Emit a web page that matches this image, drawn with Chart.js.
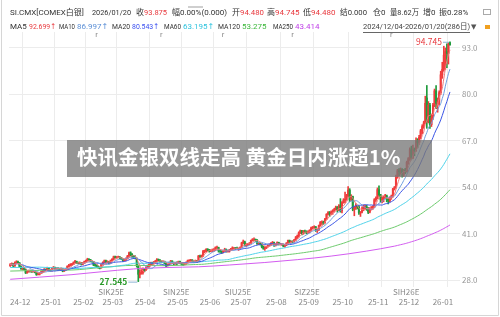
<!DOCTYPE html>
<html>
<head>
<meta charset="utf-8">
<script src="https://cdn.jsdelivr.net/npm/chart.js@4.4.1/dist/chart.umd.min.js"></script>
<style>
  html, body { margin: 0; padding: 0; background: #fff; }
  canvas { display: block; }
</style>
</head>
<body>
<canvas id="kline" width="500" height="317"></canvas>
<script>
// daily bars, [open, high, low, close]
const dec24 = [
  [32.0,32.6,31.8,32.3],[32.3,32.8,32.1,32.5],[32.5,32.6,31.7,31.9],[31.9,33.1,31.9,32.9],[32.9,33.4,32.6,33.1],
  [33.1,33.3,32.6,32.8],[32.8,32.9,31.6,31.8],[31.8,31.9,31.0,31.2],[31.2,31.6,30.9,31.3],[31.3,31.5,30.8,31.0],
  [31.0,31.1,29.8,30.0],[30.0,30.6,29.9,30.3],[30.3,30.8,30.2,30.5],[30.5,30.8,30.2,30.4],[30.4,30.6,30.1,30.3],
  [30.3,30.8,30.2,30.6],[30.6,30.7,30.0,30.1],[30.1,30.2,29.3,29.5],[29.5,29.9,29.4,29.6]
];
const jan25 = [
  [29.6,30.1,29.4,29.9],[29.9,30.4,29.8,30.2],[30.2,30.8,30.1,30.5],[30.5,31.2,30.4,31.0],[31.0,31.1,30.6,30.8],
  [30.8,31.6,30.7,31.4],[31.4,31.5,30.6,30.7],[30.7,30.9,30.4,30.6],[30.6,31.5,30.5,31.3],[31.3,31.8,31.1,31.5],
  [31.5,31.6,31.0,31.1],[31.1,31.5,31.0,31.3],[31.3,31.5,31.0,31.2],[31.2,31.3,30.8,31.0],[31.0,31.4,30.9,31.2],
  [31.2,31.3,30.3,30.5],[30.5,31.0,30.4,30.8],[30.8,31.3,30.7,31.1],[31.1,32.0,31.0,31.8],[31.8,32.4,31.7,32.1],
  [32.1,32.6,31.9,32.3]
];
const feb25 = [
  [32.3,32.7,32.0,32.4],[32.4,33.1,32.3,32.9],[32.9,33.5,32.8,33.2],[33.2,33.3,32.6,32.8],[32.8,33.0,32.5,32.7],
  [32.7,33.1,32.5,32.8],[32.8,32.9,32.2,32.4],[32.4,32.9,32.3,32.7],[32.7,33.3,32.6,33.1],[33.1,33.6,32.9,33.4],
  [33.4,34.1,33.3,33.8],[33.8,34.0,33.5,33.7],[33.7,33.8,33.1,33.2],[33.2,33.4,33.0,33.1],[33.1,33.2,32.0,32.2],
  [32.2,32.5,31.9,32.1],[32.1,32.3,31.5,31.7],[31.7,31.9,31.3,31.5],[31.5,31.7,31.1,31.3]
];
const mar25 = [
  [31.4,32.6,31.3,32.4],[32.4,33.1,32.2,32.9],[32.9,33.6,32.8,33.4],[33.4,33.6,32.9,33.1],[33.1,33.4,32.8,33.1],
  [33.1,33.2,32.5,32.7],[32.7,33.6,32.6,33.4],[33.4,34.0,33.3,33.8],[33.8,34.7,33.7,34.5],[34.5,34.7,34.1,34.3],
  [34.3,34.6,34.1,34.4],[34.4,34.7,34.2,34.4],[34.4,34.6,34.0,34.2],[34.2,34.3,33.7,33.8],[33.8,33.9,33.2,33.4],
  [33.4,33.8,33.3,33.6],[33.6,34.2,33.5,34.0],[34.0,34.9,33.9,34.7],[34.7,35.8,34.6,35.6],[35.6,35.9,34.8,35.1],
  [35.1,35.4,34.2,34.6]
];
const apr25 = [
  [34.6,34.9,34.0,34.3],[34.3,34.8,33.9,34.1],[34.1,34.2,31.6,32.0],[32.0,32.2,27.545,29.6],[29.6,30.8,28.6,30.0],
  [30.0,31.0,29.6,30.1],[30.1,31.4,29.6,30.9],[30.9,31.2,30.3,30.8],[30.8,31.7,30.6,31.4],[31.4,32.2,31.3,31.9],
  [31.9,32.6,31.7,32.4],[32.4,33.0,32.3,32.8],[32.8,33.0,32.3,32.6],[32.6,33.2,32.4,32.9],[32.9,33.5,32.7,33.2],
  [33.2,34.0,33.0,33.7],[33.7,33.9,33.3,33.6],[33.6,33.7,32.9,33.2],[33.2,33.4,32.8,33.1],[33.1,33.4,32.9,33.2],
  [33.2,33.3,32.5,32.7]
];
const may25 = [
  [32.7,32.8,31.7,32.0],[32.0,32.5,31.9,32.3],[32.3,33.0,32.1,32.7],[32.7,33.5,32.6,33.3],[33.3,33.4,32.6,32.8],
  [32.8,33.0,32.3,32.5],[32.5,33.0,32.4,32.8],[32.8,33.1,32.2,32.7],[32.7,33.3,32.6,33.2],[33.2,33.3,32.6,32.8],
  [32.8,32.9,32.2,32.5],[32.5,32.7,32.1,32.4],[32.4,32.8,32.2,32.6],[32.6,33.1,32.4,32.9],[32.9,33.6,32.8,33.4],
  [33.4,33.7,33.2,33.5],[33.5,33.8,33.1,33.6],[33.6,33.7,33.0,33.2],[33.2,33.4,32.9,33.1],[33.1,33.6,33.0,33.3],
  [33.3,33.5,32.9,33.1]
];
const jun25 = [
  [33.2,34.9,33.1,34.7],[34.7,35.0,34.3,34.6],[34.6,35.0,34.4,34.7],[34.7,36.3,34.6,36.0],[36.0,36.4,35.6,36.1],
  [36.1,36.8,35.9,36.6],[36.6,36.8,36.1,36.4],[36.4,36.6,35.8,36.3],[36.3,36.5,35.9,36.3],[36.3,36.7,35.9,36.3],
  [36.3,36.8,36.0,36.4],[36.4,37.3,36.2,37.1],[37.1,37.5,36.8,37.1],[37.1,37.2,35.8,36.2],[36.2,36.4,35.7,36.1],
  [36.1,36.2,35.4,35.8],[35.8,36.3,35.6,36.1],[36.1,36.9,36.0,36.6],[36.6,36.7,35.8,36.0],[36.0,36.3,35.8,36.1]
];
const jul25 = [
  [36.0,36.6,35.8,36.4],[36.4,36.9,36.2,36.7],[36.7,37.3,36.5,37.0],[37.0,37.1,36.8,37.0],[37.0,37.1,36.5,36.9],
  [36.9,37.2,36.6,36.8],[36.8,37.0,36.3,36.8],[36.8,37.3,36.6,37.1],[37.1,38.6,37.0,38.4],[38.4,39.2,38.2,38.7],
  [38.7,38.9,37.5,37.8],[37.8,38.2,37.3,38.0],[38.0,38.3,37.6,38.0],[38.0,38.5,37.9,38.3],[38.3,39.2,38.2,39.1],
  [39.1,39.6,38.9,39.4],[39.4,39.8,39.0,39.4],[39.4,39.5,38.8,39.2],[39.2,39.3,38.0,38.2],[38.2,38.5,37.9,38.2],
  [38.2,38.4,37.8,38.1],[38.1,38.2,37.0,37.4],[37.4,37.5,36.6,36.9]
];
const aug25 = [
  [36.9,37.3,36.3,37.0],[37.0,37.5,36.8,37.4],[37.4,38.0,37.2,37.8],[37.8,38.1,37.5,37.9],[37.9,38.5,37.7,38.3],
  [38.3,38.8,38.0,38.5],[38.5,38.6,37.4,37.7],[37.7,38.1,37.5,37.9],[37.9,38.7,37.8,38.5],[38.5,38.6,37.8,38.0],
  [38.0,38.3,37.8,38.0],[38.0,38.2,37.7,38.0],[38.0,38.1,37.3,37.5],[37.5,38.0,37.2,37.8],[37.8,38.5,37.6,38.3],
  [38.3,39.2,38.0,39.1],[39.1,39.2,38.5,38.7],[38.7,39.0,38.5,38.8],[38.8,39.0,38.4,38.7],[38.7,39.4,38.6,39.2],
  [39.2,40.2,39.1,39.8]
];
const sep25 = [
  [39.8,40.6,39.6,40.3],[40.3,41.5,40.0,41.2],[41.2,42.0,41.0,41.8],[41.8,41.9,40.6,41.0],[41.0,41.9,40.8,41.6],
  [41.6,42.0,41.2,41.4],[41.4,41.8,40.9,41.3],[41.3,41.8,41.0,41.5],[41.5,42.1,41.2,41.9],[41.9,42.8,41.7,42.6],
  [42.6,43.0,42.3,42.8],[42.8,43.2,42.5,42.9],[42.9,43.0,41.6,42.0],[42.0,42.3,41.3,42.0],[42.0,43.4,41.9,43.3],
  [43.3,44.4,43.1,44.2],[44.2,44.6,43.6,44.2],[44.2,44.5,43.5,44.0],[44.0,45.3,43.9,45.1],[45.1,46.6,45.0,46.4],
  [46.4,47.2,46.2,46.9],[46.9,47.2,45.8,46.6]
];
const oct25 = [
  [46.6,47.4,46.2,47.0],[47.0,47.7,46.4,47.2],[47.2,48.1,47.0,47.8],[47.8,48.7,47.6,48.4],[48.4,48.6,47.0,47.6],
  [47.6,49.1,47.4,48.8],[48.8,50.8,47.0,47.4],[47.4,50.0,46.8,49.7],[49.7,50.8,49.5,50.4],[50.4,52.6,49.6,50.6],
  [50.6,52.0,50.3,51.6],[51.6,54.2,51.4,53.2],[53.2,53.6,50.0,50.5],[50.5,51.9,50.2,51.4],[51.4,51.5,47.4,47.8],
  [47.8,48.6,46.0,48.3],[48.3,49.4,47.8,48.8],[48.8,49.0,47.9,48.5],[48.5,48.7,46.4,46.8],[46.8,47.2,45.8,47.0],
  [47.0,48.5,46.8,47.9],[47.9,49.0,47.4,48.4],[48.4,49.0,47.8,48.5]
];
const nov25 = [
  [48.5,49.0,47.5,48.1],[48.1,48.3,46.6,47.0],[47.0,48.3,46.8,48.0],[48.0,48.6,47.6,48.1],[48.1,48.8,47.8,48.5],
  [48.5,50.8,48.3,50.5],[50.5,51.3,50.0,51.0],[51.0,53.8,50.8,53.3],[53.3,54.4,51.5,51.9],[51.9,52.0,49.8,50.6],
  [50.6,51.3,49.6,50.9],[50.9,51.5,49.9,51.2],[51.2,52.0,50.8,51.6],[51.6,51.8,49.9,50.5],[50.5,50.9,49.3,50.1],
  [50.1,51.3,49.9,51.1],[51.1,51.8,50.6,51.5],[51.5,53.7,51.2,53.5],[53.5,54.2,53.2,53.9],[53.9,57.4,53.7,56.8]
];
const dec25 = [
  [56.8,59.0,56.5,58.6],[58.6,59.2,57.2,58.4],[58.4,59.4,57.6,58.9],[58.9,59.2,56.8,57.4],[57.4,59.0,57.0,58.7],
  [58.7,59.3,57.8,58.4],[58.4,61.3,58.2,61.0],[61.0,62.3,60.4,62.0],[62.0,65.0,61.5,64.5],[64.5,65.5,61.8,62.3],
  [62.3,65.8,62.0,64.5],[64.5,65.0,62.8,64.2],[64.2,67.8,64.0,67.0],[67.0,67.6,65.0,66.5],[66.5,68.5,66.0,68.0],
  [68.0,70.2,67.6,69.8],[69.8,71.5,69.0,71.0],[71.0,72.5,70.5,72.0],[72.0,79.5,71.8,77.5],[79.0,82.5,70.5,72.5],
  [72.5,78.0,72.0,77.0],[77.0,77.5,70.5,71.5]
];
const jan26 = [
  [71.5,74.5,71.0,73.5],[73.5,77.5,73.0,77.0],[77.0,81.5,76.5,81.0],[81.0,82.5,76.0,77.5],[77.5,79.0,75.0,78.0],
  [78.0,81.0,77.0,80.5],[80.5,86.5,80.0,85.5],[85.5,89.0,84.5,87.0],[87.0,93.5,86.5,91.0],[91.0,93.0,87.0,92.0],
  [92.0,94.2,87.5,91.5],[91.5,94.5,88.5,94.0],[94.48,94.745,93.8,93.875]
];

// long averages before enough days are in the window: [day index, value]
const ma60Early = [[0,31.5],[19,31.6],[40,31.2]];
const ma120Early = [[0,30.5],[19,30.7],[40,30.8],[59,31.5],[80,32.1],[101,32.0]];
const ma250Early = [[0,28.2],[19,28.8],[40,29.5],[59,30.3],[80,31.1],[101,31.5],[122,31.7],
  [142,32.2],[165,32.9],[186,33.7],[208,34.7],[231,36.1]];

const monthLabels = ['24-12','25-01','25-02','25-03','25-04','25-05','25-06','25-07','25-08','25-09','25-10','25-11','25-12','26-01'];
const monthStart = [0,19,40,59,80,101,122,142,165,186,208,231,251,273];
const rollNames = ['SIK25E','SIN25E','SIU25E','SIZ25E','SIH26E'];
const rollIdx = [57,99,139,184,248];
const yTicks = [28,41,54,67,80,93];

const maNames = ['MA5','MA10','MA20','MA60','MA120','MA250'];
const maLabels = ['92.699↑','86.997↑','80.543↑','63.195↑','53.275','43.414'];
const maColors = ['#f07a7a','#6f9fe0','#3b55e6','#4fd3ea','#6ccb6c','#d35cf0'];
const maTextColors = ['#e8383d','#5b8fd6','#3a4ff0','#2fc3de','#3cb83c','#c040e8'];

// header quote: [label, value, value is red]
const quoteItems = [
  ['SI.CMX[COMEX白银]', '', false], ['2026/01/20', '', false], ['收', '93.875', true],
  ['幅0.00%(0.000)', '', false], ['开', '94.480', true], ['高', '94.745', true], ['低', '94.480', true],
  ['结0.000', '', false], ['仓0', '', false], ['量8.62万', '', false], ['增0', '', false], ['振0.28%', '', false]
];
const quoteSpans = [[10,88],[92,131],[136,167],[172,229],[232,264],[267,300],[303,336],[340,367],[373,386],[390,419],[423,436],[439,476]];
const maSpans = [[10,27,29,56],[59,75,77,110],[112,130,132,159],[164,181,183,215],[218,240,242,271],[273,293,295,322]];

const UP = '#f03c3c', DOWN = '#1f9b3c';
const FONT = '"Noto Sans CJK SC","Noto Sans",sans-serif';
const HEAD_FONT = 'Roboto,"DejaVu Sans","Noto Sans CJK SC",sans-serif';
const HEAD_SIZE = 8;

const bars = [].concat(dec24, jan25, feb25, mar25, apr25, may25, jun25, jul25, aug25, sep25, oct25, nov25, dec25, jan26);
const closes = bars.map(b => b[3]);
const colors = bars.map(b => b[3] >= b[0] ? UP : DOWN);

function movingAvg(n, early) {
    const pts = early.filter(p => p[0] < n - 1).map(p => ({ x: p[0], y: p[1] }));
    for (let i = 0; i < closes.length; i++) {
        if (early.length && i < n - 1) continue;
        const from = Math.max(0, i - n + 1);
        let s = 0;
        for (let j = from; j <= i; j++) s += closes[j];
        pts.push({ x: i, y: s / (i - from + 1) });
    }
    return pts;
}

const maData = [
    movingAvg(5, []), movingAvg(10, []), movingAvg(20, []),
    movingAvg(60, ma60Early), movingAvg(120, ma120Early), movingAvg(250, ma250Early)
];

// draws text, squeezed into maxW if it would be wider; returns the right edge
function put(ctx, s, x, y, color, size, weight, maxW, family) {
    ctx.font = (weight || 'normal') + ' ' + size + 'px ' + (family || FONT);
    ctx.fillStyle = color;
    const w = ctx.measureText(s).width;
    if (maxW && w > maxW) {
        ctx.fillText(s, x, y, maxW);
        return x + maxW;
    }
    ctx.fillText(s, x, y);
    return x + w;
}

const overlay = {
    id: 'overlay',
    beforeDraw(chart) {
        const ctx = chart.ctx;
        ctx.save();
        ctx.fillStyle = '#fff';
        ctx.fillRect(0, 0, chart.width, chart.height);
        ctx.restore();
    },
    afterDraw(chart) {
        const ctx = chart.ctx;
        const xs = chart.scales.x, ys = chart.scales.y, area = chart.chartArea;
        ctx.save();
        ctx.textBaseline = 'middle';
        ctx.textAlign = 'left';

        // header, first row
        const dark = '#333', red = '#e8383d';
        quoteItems.forEach((q, i) => {
            const sp = quoteSpans[i];
            if (q[1]) {
                const e = put(ctx, q[0], sp[0], 13, dark, HEAD_SIZE, 'normal', 0, HEAD_FONT);
                put(ctx, q[1], e, 13, q[2] ? red : dark, HEAD_SIZE, 'normal', sp[1] - e, HEAD_FONT);
            } else {
                put(ctx, q[0], sp[0], 13, dark, HEAD_SIZE, 'normal', sp[1] - sp[0], HEAD_FONT);
            }
        });
        ctx.strokeStyle = '#aaa'; ctx.lineWidth = 1;
        ctx.strokeRect(483.5, 9.5, 7, 5);
        ctx.strokeStyle = '#cfcfcf'; ctx.lineWidth = 2;
        ctx.beginPath(); ctx.moveTo(188, 7); ctx.lineTo(203, 7); ctx.stroke();

        // header, second row: moving averages
        maNames.forEach((n, i) => {
            const sp = maSpans[i];
            put(ctx, n, sp[0], 27, dark, HEAD_SIZE, 'normal', sp[1] - sp[0], HEAD_FONT);
            put(ctx, maLabels[i], sp[2], 27, maTextColors[i], HEAD_SIZE, 'normal', sp[3] - sp[2], HEAD_FONT);
        });
        const x = put(ctx, '2024/12/04-2026/01/20(286日)', 363, 27, '#444', HEAD_SIZE, 'normal', 107, HEAD_FONT);
        ctx.strokeStyle = '#666'; ctx.lineWidth = 1;
        ctx.beginPath(); ctx.moveTo(363, 32.5); ctx.lineTo(x, 32.5); ctx.stroke();
        put(ctx, '▼', x + 1, 27, '#555', 7, 'normal', 0, HEAD_FONT);
        ctx.fillStyle = '#f0a020';
        ctx.fillRect(485, 25, 5, 4);

        // x axis: months and contract rolls
        monthLabels.forEach((m, i) => {
            const mx = i === 0 ? area.left + 1 : xs.getPixelForValue(monthStart[i] - 0.5) + 2;
            put(ctx, m, mx, 302, '#888', 8);
        });
        rollNames.forEach((r, i) => {
            const rx = xs.getPixelForValue(rollIdx[i]);
            put(ctx, r, rx, 292, '#8a8a8a', 8);
            put(ctx, 'r', rx - 3, 35, '#777', 6.5);
        });

        // highest and lowest price marks
        let hi = 0, lo = 0;
        bars.forEach((b, i) => { if (b[1] > bars[hi][1]) hi = i; if (b[2] < bars[lo][2]) lo = i; });
        let px = xs.getPixelForValue(hi), py = ys.getPixelForValue(bars[hi][1]);
        ctx.strokeStyle = '#8fb4d4';
        ctx.beginPath(); ctx.moveTo(px - 7, py + 0.5); ctx.lineTo(px - 1, py + 0.5); ctx.stroke();
        ctx.textAlign = 'right';
        put(ctx, bars[hi][1].toFixed(3), px - 8, py, red, 8.5);
        px = xs.getPixelForValue(lo); py = ys.getPixelForValue(bars[lo][2]);
        ctx.strokeStyle = '#8fb4d4';
        ctx.beginPath(); ctx.moveTo(px - 10, py + 0.5); ctx.lineTo(px - 1, py + 0.5); ctx.stroke();
        put(ctx, bars[lo][2].toFixed(3), px - 11, py, '#2a9a2a', 8.5, 'bold');

        // grey headline strip
        ctx.textAlign = 'left';
        ctx.fillStyle = 'rgba(120,120,120,0.78)';
        ctx.fillRect(67, 140, 365, 37);
        put(ctx, '快讯金银双线走高 黄金日内涨超1%', 77, 157, '#fff', 20.5, 'bold');

        // frame
        ctx.strokeStyle = '#d6d6d6'; ctx.lineWidth = 1;
        ctx.beginPath();
        ctx.moveTo(1.5, 0); ctx.lineTo(1.5, 315.5); ctx.lineTo(498.5, 315.5); ctx.lineTo(498.5, 0);
        ctx.stroke();
        ctx.restore();
    }
};

const datasets = [
    {
        type: 'bar', order: 3, grouped: false, barThickness: 1,
        data: bars.map((b, i) => ({ x: i, y: [b[2], b[1]] })),
        backgroundColor: colors, borderWidth: 0
    },
    {
        type: 'bar', order: 2, grouped: false, barThickness: 1.4,
        data: bars.map((b, i) => ({ x: i, y: [b[0], b[3]] })),
        backgroundColor: colors, borderWidth: 0
    }
];
maData.forEach((d, i) => {
    datasets.push({
        type: 'line', order: 1, data: d,
        borderColor: maColors[i], borderWidth: 1,
        pointRadius: 0, cubicInterpolationMode: 'monotone'
    });
});

new Chart(document.getElementById('kline').getContext('2d'), {
    type: 'bar',
    data: { datasets: datasets },
    options: {
        responsive: false,
        animation: false,
        devicePixelRatio: 1,
        layout: { padding: { left: 9, top: 32, right: 0, bottom: 0 } },
        plugins: { legend: { display: false }, tooltip: { enabled: false } },
        scales: {
            x: {
                type: 'linear', min: -0.8, max: 291.5, offset: false,
                ticks: { display: false },
                grid: { color: '#ececec', drawTicks: false },
                border: { display: false },
                afterBuildTicks: s => { s.ticks = monthStart.slice(1).map(v => ({ value: v - 0.5 })); },
                afterFit: s => { s.height = 30; }
            },
            y: {
                position: 'right', min: 26.04, max: 97.48,
                ticks: {
                    padding: 2, color: '#999',
                    font: { size: 8, family: FONT },
                    callback: v => v.toFixed(1)
                },
                grid: { color: '#ececec', drawTicks: false },
                border: { display: false },
                afterBuildTicks: s => { s.ticks = yTicks.map(v => ({ value: v })); },
                afterFit: s => { s.width = 40; }
            }
        }
    },
    plugins: [overlay]
});
</script>
</body>
</html>
